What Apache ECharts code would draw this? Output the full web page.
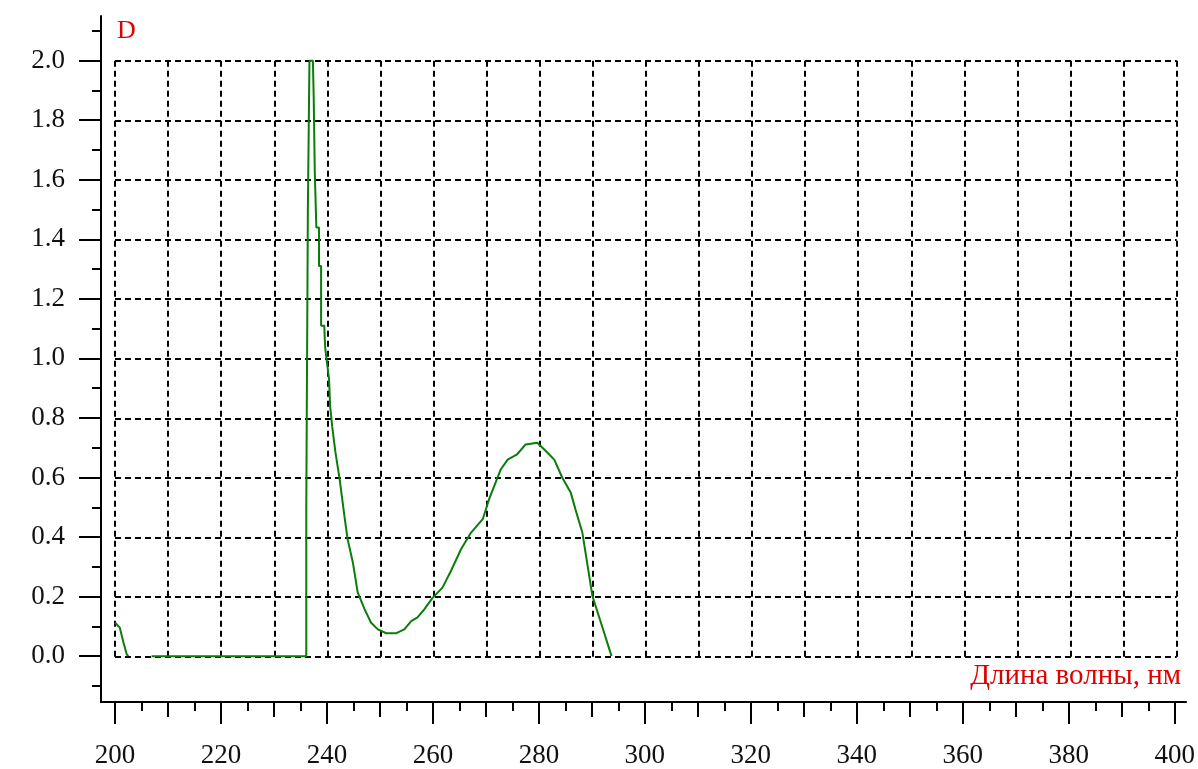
<!DOCTYPE html>
<html><head><meta charset="utf-8">
<script src="https://cdn.jsdelivr.net/npm/echarts@6/dist/echarts.min.js"></script>
<style>html,body{margin:0;padding:0;background:#fff}#c{width:1198px;height:769px}</style>
</head><body><div id="c"></div>
<script>
// Wavelength, nm (null absorbance = break in the trace)
const wavelengths = [
  200.0, 200.9, 201.6, 202.2, 202.5, 204.6,
  206.9, 236.1, 236.1, 236.4, 236.4, 236.7, 236.7, 237.0, 237.35,
  237.5, 237.7, 237.7, 238.0, 238.0, 238.5, 238.5, 238.9, 238.9, 239.5, 239.6,
  239.7, 240.4, 240.6, 241.0, 241.6, 242.4, 243.3, 243.9, 244.9, 245.8,
  247.1, 248.3, 249.6, 251.2, 253.1, 254.6, 255.9, 257.1, 258.4, 259.9,
  261.8, 263.4, 265.3, 267.2, 269.4, 270.6, 272.8, 274.1, 275.9, 277.5,
  279.7, 281.3, 282.9, 284.4, 286.0, 286.9, 288.2, 289.1, 290.1, 291.7,
  293.5, 293.7
];
// Optical density D
const absorbance = [
  0.113, 0.096, 0.046, 0.007, 0.0, null,
  0.0, 0.0, 0.5, 0.5, 1.5, 1.5, 2.0, 2.0, 2.0,
  1.88, 1.88, 1.63, 1.63, 1.44, 1.44, 1.31, 1.31, 1.11, 1.11, 1.06,
  1.03, 0.93, 0.84, 0.77, 0.685, 0.594, 0.47, 0.393, 0.314, 0.214,
  0.158, 0.113, 0.09, 0.077, 0.077, 0.09, 0.118, 0.13, 0.158, 0.195,
  0.23, 0.286, 0.359, 0.415, 0.46, 0.527, 0.627, 0.66, 0.678, 0.711,
  0.717, 0.689, 0.66, 0.60, 0.55, 0.493, 0.415, 0.314, 0.202, 0.113,
  0.012, 0.0
];
const xMajorTicks = [200, 220, 240, 260, 280, 300, 320, 340, 360, 380, 400];
const xMidTicks = [210, 230, 250, 270, 290, 310, 330, 350, 370, 390];
const xMinorTicks = [205, 215, 225, 235, 245, 255, 265, 275, 285, 295, 305, 315, 325, 335, 345, 355, 365, 375, 385, 395];
const yMajorTicks = [0, 0.2, 0.4, 0.6, 0.8, 1.0, 1.2, 1.4, 1.6, 1.8, 2.0];
const yMinorTicks = [-0.1, 0.1, 0.3, 0.5, 0.7, 0.9, 1.1, 1.3, 1.5, 1.7, 1.9, 2.1];
const yAxisTitle = 'D';
const xAxisTitle = 'Длина волны, нм';

const seriesData = wavelengths.map((w, i) => [w, absorbance[i] === null ? '-' : absorbance[i]]);

const FONT = '"Liberation Serif", "Times New Roman", serif';
const black = '#000';

const chart = echarts.init(document.getElementById('c'), null, {renderer: 'canvas'});

function xTickAxis(values, len, showLine, labels) {
  return {
    type: 'value', gridIndex: 0, position: 'bottom', min: 197.36, max: 402.13,
    axisLine: {show: showLine, onZero: false, lineStyle: {color: black, width: 2}},
    axisTick: {show: true, customValues: values, length: len, lineStyle: {color: black, width: 2}},
    axisLabel: labels ? {show: true, customValues: values, margin: 40, color: '#111',
      fontFamily: FONT, fontSize: 27, formatter: v => String(Math.round(v))} : {show: false},
    splitLine: {show: false}
  };
}
function yTickAxis(values, len, showLine, labels) {
  return {
    type: 'value', gridIndex: 0, position: 'left', min: -0.154, max: 2.15,
    axisLine: {show: showLine, onZero: false, lineStyle: {color: black, width: 2}},
    axisTick: {show: true, customValues: values, length: len, lineStyle: {color: black, width: 2}},
    axisLabel: labels ? {show: true, customValues: values, margin: 36, color: '#111',
      fontFamily: FONT, fontSize: 27, formatter: v => v.toFixed(1)} : {show: false},
    splitLine: {show: false}
  };
}

const option = {
  animation: false,
  backgroundColor: '#fff',
  title: [
    {text: yAxisTitle, left: 117, top: 18, padding: 0,
     textStyle: {color: '#e00000', fontFamily: FONT, fontSize: 26, fontWeight: 'normal'}},
    {text: xAxisTitle, right: 17, top: 662, padding: 0,
     textStyle: {color: '#e00000', fontFamily: FONT, fontSize: 29, fontWeight: 'normal'}}
  ],
  grid: [
    {left: 101, right: 10, top: 16, bottom: 66, containLabel: false},
    {left: 115, right: 21.3, top: 60.7, bottom: 112.3, containLabel: false}
  ],
  xAxis: [
    xTickAxis(xMajorTicks, 22, true, true),
    xTickAxis(xMidTicks, 15, false, false),
    xTickAxis(xMinorTicks, 9, false, false),
    {
      type: 'value', gridIndex: 1, min: 200, max: 400, interval: 10,
      axisLine: {show: false}, axisTick: {show: false}, axisLabel: {show: false},
      splitLine: {show: true, lineStyle: {color: black, width: 2, type: [6, 4]}}
    }
  ],
  yAxis: [
    yTickAxis(yMajorTicks, 22, true, true),
    yTickAxis(yMinorTicks, 9, false, false),
    {
      type: 'value', gridIndex: 1, min: 0, max: 2, interval: 0.2,
      axisLine: {show: false}, axisTick: {show: false}, axisLabel: {show: false},
      splitLine: {show: true, lineStyle: {color: black, width: 2, type: [6, 4]}}
    }
  ],
  series: [{
    type: 'line', xAxisIndex: 0, yAxisIndex: 0,
    data: seriesData, showSymbol: false, symbol: 'none', clip: false,
    connectNulls: false,
    lineStyle: {color: '#0a7d0a', width: 2}
  }]
};
chart.setOption(option);
</script>
</body></html>
